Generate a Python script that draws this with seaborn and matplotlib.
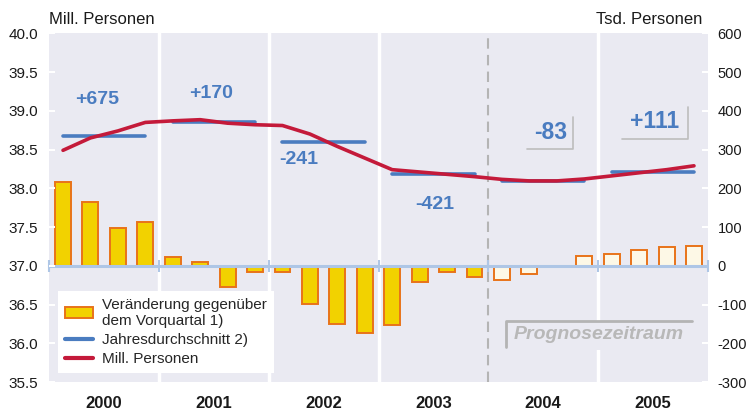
import numpy as np
import pandas as pd
import matplotlib
matplotlib.use("Agg")
import matplotlib.pyplot as plt
from matplotlib.patches import Patch, Rectangle
from matplotlib.lines import Line2D
import seaborn as sns

# ---------------- data ----------------
years = ["2000", "2001", "2002", "2003", "2004", "2005"]
# change vs previous quarter (Tsd. Personen), 24 quarters
change_tsd = [215, 164, 97, 114,
              23, 10, -56, -17,
              -17, -98, -150, -173,
              -152, -41, -15, -29,
              -38, -22, 0, 25,
              30, 41, 49, 51]
forecast = [False] * 16 + [True] * 8
# employment level (Mill. Personen)
mill_personen = [38.49, 38.65, 38.74, 38.85,
                 38.87, 38.885, 38.84, 38.82,
                 38.81, 38.70, 38.54, 38.39,
                 38.24, 38.21, 38.18, 38.15,
                 38.115, 38.095, 38.095, 38.12,
                 38.16, 38.20, 38.24, 38.29]
# yearly average (Mill. Personen)
year_avg = [38.68, 38.85, 38.60, 38.19, 38.10, 38.21]
year_change_labels = ["+675", "+170", "-241", "-421", "-83", "+111"]

left_ticks = [35.5, 36.0, 36.5, 37.0, 37.5, 38.0, 38.5, 39.0, 39.5, 40.0]
right_ticks = [-300, -200, -100, 0, 100, 200, 300, 400, 500, 600]

# ---------------- style ----------------
sns.set_theme(style="darkgrid")
plt.rcParams["font.family"] = ["Liberation Sans", "DejaVu Sans"]

BG = "#eaeaf2"
YELLOW = "#f2d200"
CREAM = "#fdf8e6"
ORANGE = "#e8731a"
BLUE = "#4a7cc0"
RED = "#c41a3a"
ZERO = "#aec6e6"
GRAY = "#b4b4b4"

fig = plt.figure(figsize=(7.46, 4.13), dpi=100)
ax = fig.add_axes([49.3 / 746, 1 - 382 / 413, 658.4 / 746, 348.7 / 413])
ax.grid(False)
for s in ax.spines.values():
    s.set_visible(False)

n = len(change_tsd)
quarters = np.arange(n)
ax.set_xlim(-0.5, n - 0.5)
ax.set_ylim(35.5, 40.0)

ax2 = ax.twinx()
ax2.set_ylim(-300, 600)
ax2.grid(False)
for s in ax2.spines.values():
    s.set_visible(False)

# year separators
for i in range(1, len(years)):
    xb = i * 4 - 0.5
    if years[i] == "2004":
        ax2.axvline(xb, color=GRAY, lw=1.5, ls=(0, (5, 3)), zorder=1)
    else:
        ax2.axvline(xb, color="white", lw=2.5, zorder=1)

# bars (Tsd.)
df_bars = pd.DataFrame({
    "q": quarters,
    "val": change_tsd,
    "kind": ["Prognose" if f else "Ist" for f in forecast],
})
sns.barplot(data=df_bars, x="q", y="val", hue="kind",
            palette={"Ist": YELLOW, "Prognose": CREAM},
            dodge=False, width=0.58, saturation=1, edgecolor=ORANGE,
            linewidth=1.4, legend=False, ax=ax2, zorder=2)
ax2.set_xlim(-0.5, n - 0.5)
ax2.set_xlabel("")
ax2.set_ylabel("")

# zero line with small boundary ticks
ax2.axhline(0, color=ZERO, lw=2.2, zorder=3)
bounds = np.arange(0, n + 1, 4) - 0.5
ax2.plot(bounds, np.zeros_like(bounds), ls="none", marker="|", ms=9,
         mew=1.5, color=ZERO, zorder=3, clip_on=False)

# red line (Mill.)
sns.lineplot(x=quarters, y=mill_personen, ax=ax, color=RED, lw=2.6, zorder=4)

# yearly averages as segments
seg = pd.DataFrame({
    "x": np.concatenate([[4 * i, 4 * i + 3] for i in range(len(years))]),
    "y": np.repeat(year_avg, 2),
    "year": np.repeat(years, 2),
})
sns.lineplot(data=seg, x="x", y="y", units="year", estimator=None,
             color=BLUE, lw=2.6, ax=ax, zorder=3)
ax.set_xlabel("")
ax.set_ylabel("")
ax.set_xlim(-0.5, n - 0.5)
ax.set_ylim(35.5, 40.0)
ax.set_zorder(ax2.get_zorder() + 1)
ax.patch.set_visible(False)
ax2.patch.set_visible(True)
ax2.patch.set_facecolor(BG)

# annotations (year changes)
label_pos = [(1.23, 39.14), (5.40, 39.22), (8.58, 38.365),
             (13.54, 37.785), (17.78, 38.72), (21.58, 38.86)]
label_size = [14, 14, 14, 14, 16.5, 16.5]
for txt, (xx, yy), fs in zip(year_change_labels, label_pos, label_size):
    ax.text(xx, yy, txt, color=BLUE, fontsize=fs, fontweight="bold",
            ha="center", va="center", zorder=6)
# small gray frames
ax.plot([16.93, 18.6, 18.6], [38.503, 38.503, 38.916], color="#bdbdbd", lw=1.2, zorder=5)
ax.plot([20.39, 22.80, 22.80], [38.636, 38.636, 39.053], color="#bdbdbd", lw=1.2, zorder=5)

# Prognosezeitraum box
ax.add_patch(Rectangle((16.14, 35.917), 22.93 - 16.14, 36.29 - 35.917,
                       facecolor=BG, edgecolor="none", zorder=5))
ax.plot([16.14, 16.14, 22.93], [35.956, 36.29, 36.29], color=GRAY, lw=2, zorder=6)
ax.text(19.54, 36.107, "Prognosezeitraum", color="#b8b8b8", fontsize=14,
        fontweight="bold", fontstyle="italic", ha="center", va="center", zorder=7)

# ticks
ax.set_yticks(left_ticks)
ax.set_yticklabels([f"{t:.1f}" for t in left_ticks])
ax2.set_yticks(right_ticks)
ax2.set_yticklabels([str(t) for t in right_ticks])
ax.tick_params(axis="y", direction="in", length=4, width=1.5, color="white",
               labelsize=11, pad=8, labelcolor="#1a1a1a", left=True)
ax2.tick_params(axis="y", direction="in", length=4, width=1.5, color="white",
                labelsize=10.5, pad=7, labelcolor="#1a1a1a", right=True)
ax.set_xticks([4 * i + 1.5 for i in range(len(years))])
ax.set_xticklabels(years, fontsize=12, fontweight="bold")
ax.tick_params(axis="x", length=0, pad=10, labelcolor="#1a1a1a")
ax2.tick_params(axis="x", length=0, labelbottom=False)

# legend
handles = [
    Patch(facecolor=YELLOW, edgecolor=ORANGE, linewidth=1.4,
          label="Veränderung gegenüber\ndem Vorquartal 1)"),
    Line2D([0], [0], color=BLUE, lw=3, label="Jahresdurchschnitt 2)"),
    Line2D([0], [0], color=RED, lw=3, label="Mill. Personen"),
]
leg = ax.legend(handles=handles, loc="lower left",
                bbox_to_anchor=(0.0137, 0.025), borderaxespad=0,
                fontsize=11, frameon=True, fancybox=False, framealpha=1,
                facecolor="white", edgecolor="none", handlelength=1.8,
                handletextpad=0.6, labelspacing=0.35, borderpad=0.45)
leg.set_zorder(10)

# axis titles
fig.text(49 / 746, 1 - 20 / 413, "Mill. Personen", fontsize=12,
         ha="left", va="center", color="#1a1a1a")
fig.text(702 / 746, 1 - 20 / 413, "Tsd. Personen", fontsize=12,
         ha="right", va="center", color="#1a1a1a")

fig.savefig("out.png", dpi=100)
